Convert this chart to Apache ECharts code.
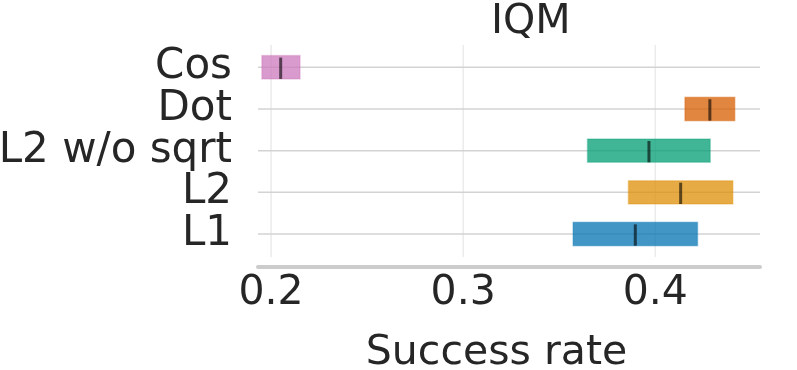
<!DOCTYPE html>
<html>
<head>
<meta charset="utf-8">
<script src="https://cdn.jsdelivr.net/npm/echarts@6/dist/echarts.min.js"></script>
<style>
  html, body { margin: 0; padding: 0; background: #fff; }
  #chart { width: 797px; height: 370px; }
</style>
</head>
<body>
<div id="chart"></div>
<script>
// methods, bottom to top
var methods = ["L1", "L2", "L2 w/o sqrt", "Dot", "Cos"];
// IQM interval (lower, point estimate, upper)
var lower = [0.3572, 0.3860, 0.3647, 0.4154, 0.1952];
var median = [0.3896, 0.4132, 0.3967, 0.4284, 0.2050];
var upper = [0.4220, 0.4404, 0.4286, 0.4414, 0.2151];
var tickValues = [0.2, 0.3, 0.4];

var colors = ["#0173B2", "#DE8F05", "#029E73", "#D55E00", "#CC78BC"];
var font = "DejaVu Sans";
var textColor = "#262626";

var chart = echarts.init(document.getElementById("chart"));

var boxData = methods.map(function (m, i) {
  return [i, lower[i], median[i], upper[i]];
});

var option = {
  animation: false,
  backgroundColor: "#fff",
  title: {
    text: "IQM",
    left: 486,
    top: -3,
    textStyle: { fontFamily: font, fontSize: 41, fontWeight: "normal", color: textColor }
  },
  grid: { left: 258, right: 37, top: 46.4, height: 208.5, outerBoundsMode: "none", containLabel: false },
  xAxis: {
    type: "value",
    min: 0.1932,
    max: 0.4545,
    splitNumber: 3,
    offset: 12,
    name: "Success rate",
    nameLocation: "middle",
    nameGap: 66,
    nameTextStyle: {
      fontFamily: font, fontSize: 41, color: textColor,
      padding: [0, 25, 0, 0]
    },
    axisLine: { show: true, lineStyle: { color: "#cccccc", width: 4 } },
    axisTick: { show: false },
    splitLine: { show: false },
    axisLabel: {
      fontFamily: font, fontSize: 41, color: textColor, margin: 6,
      showMinLabel: false, showMaxLabel: false,
      formatter: function (v) {
        for (var k = 0; k < tickValues.length; k++) {
          if (Math.abs(v - tickValues[k]) < 1e-6) return tickValues[k].toFixed(1);
        }
        return "";
      }
    }
  },
  yAxis: {
    type: "category",
    data: methods,
    axisLine: { show: false },
    axisTick: { show: false },
    splitLine: { show: false },
    axisLabel: { fontFamily: font, fontSize: 42, color: textColor, margin: 26, interval: 0, hideOverlap: false }
  },
  series: [
    {
      // vertical grid lines
      type: "custom",
      z: 1,
      silent: true,
      data: tickValues.map(function (v) { return [v]; }),
      encode: { x: 0 },
      renderItem: function (params, api) {
        var cs = params.coordSys;
        var x = api.coord([api.value(0), 0])[0];
        return {
          type: "line",
          shape: { x1: x, y1: cs.y - 1.5, x2: x, y2: cs.y + cs.height + 2 },
          style: { stroke: "#ebebeb", lineWidth: 1.5 }
        };
      }
    },
    {
      // horizontal row lines
      type: "custom",
      z: 2,
      silent: true,
      data: methods.map(function (m, i) { return [i]; }),
      encode: { y: 0 },
      renderItem: function (params, api) {
        var cs = params.coordSys;
        var y = api.coord([0.3, api.value(0)])[1];
        return {
          type: "line",
          shape: { x1: cs.x, y1: y, x2: cs.x + cs.width, y2: y },
          style: { stroke: "#d3d3d3", lineWidth: 1.5 }
        };
      }
    },
    {
      type: "custom",
      z: 3,
      data: boxData,
      encode: { y: 0, x: [1, 2, 3] },
      renderItem: function (params, api) {
        var idx = api.value(0);
        var p0 = api.coord([api.value(1), idx]);
        var pm = api.coord([api.value(2), idx]);
        var p1 = api.coord([api.value(3), idx]);
        var h = api.size([0, 1])[1] * 0.56;
        var c = echarts.color.modifyAlpha(colors[idx], 0.75);
        var edge = echarts.color.modifyAlpha(colors[idx], 0.3);
        return {
          type: "group",
          children: [
            {
              type: "rect",
              shape: { x: p0[0], y: p0[1] - h / 2, width: p1[0] - p0[0], height: h },
              style: { fill: c, stroke: edge, lineWidth: 1.5 }
            },
            {
              type: "line",
              shape: { x1: pm[0], y1: pm[1] - h / 2 + 2, x2: pm[0], y2: pm[1] + h / 2 },
              style: { stroke: "rgba(0,0,0,0.6)", lineWidth: 3 }
            }
          ]
        };
      }
    }
  ]
};

chart.setOption(option);
</script>
</body>
</html>
